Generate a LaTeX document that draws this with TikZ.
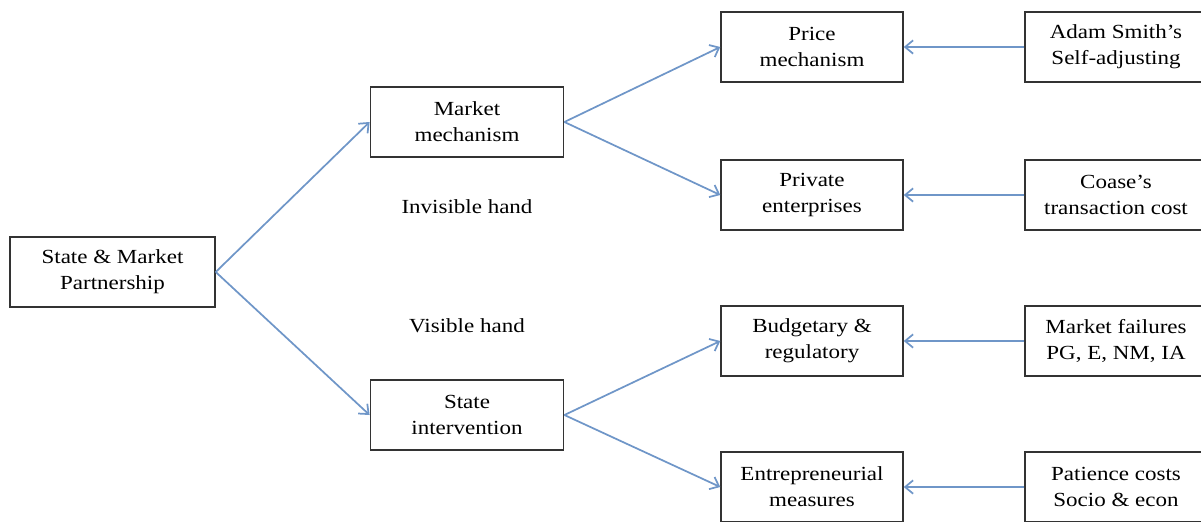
\documentclass[tikz,border=0pt]{standalone}
\usepackage{fontspec}
\setmainfont[FakeStretch=1.15]{Liberation Serif}
\usetikzlibrary{arrows.meta}
\definecolor{hndblue}{HTML}{6F96C8}
\definecolor{hndgray}{HTML}{333333}

\begin{document}
\begin{tikzpicture}[x=0.75pt,y=-0.75pt,
  box/.style={draw=hndgray,line width=1.1pt,align=center,inner sep=0pt,
    minimum width=#1,minimum height=52.5pt,font=\fontsize{15}{19.5}\selectfont},
  lbl/.style={font=\fontsize{15}{19.5}\selectfont},
  link/.style={draw=hndblue,line width=1.3pt,-{Straight Barb[length=6pt,width=10pt]}}]
  \useasboundingbox (0,0) rectangle (1201,521);
  \clip (0,0) rectangle (1201,521);
  % left and middle column
  \node[box=153.75pt] (part) at (112.5,272) {State \& Market\\Partnership};
  \node[box=145pt] (market) at (467,122) {Market\\mechanism};
  \node[box=145pt] (state) at (467,415) {State\\intervention};
  \node[lbl] (inv) at (467,207) {Invisible hand};
  \node[lbl] (vis) at (467,326) {Visible hand};
  % third column
  \node[box=136.5pt] (price) at (812,47) {Price\\mechanism};
  \node[box=136.5pt] (priv) at (812,195) {Private\\enterprises};
  \node[box=136.5pt] (budget) at (812,341) {Budgetary \&\\regulatory};
  \node[box=136.5pt] (entre) at (812,487) {Entrepreneurial\\measures};
  % right column
  \node[box=136.5pt] (smith) at (1116,47) {Adam Smith's\\Self-adjusting};
  \node[box=136.5pt] (coase) at (1116,195) {Coase's\\transaction cost};
  \node[box=136.5pt] (fail) at (1116,341) {Market failures\\PG, E, NM, IA};
  \node[box=136.5pt] (pat) at (1116,487) {Patience costs\\Socio \& econ};
  % connectors
  \draw[link] (part.east) -- (market.west);
  \draw[link] (part.east) -- (state.west);
  \draw[link] (market.east) -- (price.west);
  \draw[link] (market.east) -- (priv.west);
  \draw[link] (state.east) -- (budget.west);
  \draw[link] (state.east) -- (entre.west);
  \draw[link] (smith) -- (price);
  \draw[link] (coase) -- (priv);
  \draw[link] (fail) -- (budget);
  \draw[link] (pat) -- (entre);
\end{tikzpicture}
\end{document}
